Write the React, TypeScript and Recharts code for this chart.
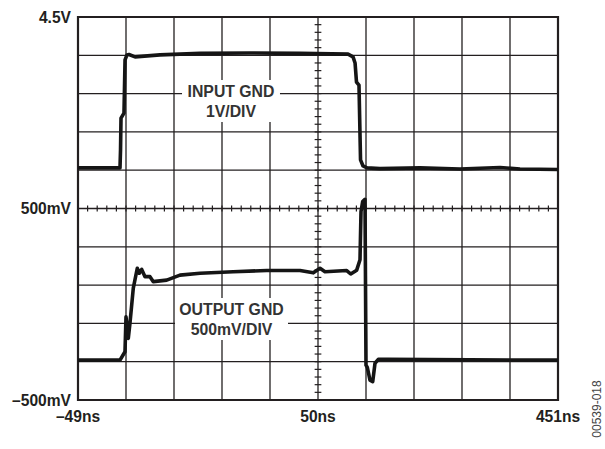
import React from 'react';
import { LineChart, Line, XAxis, YAxis, CartesianGrid, ReferenceLine, ReferenceArea } from 'recharts';

// Screen divisions (10 x 10 graticule)
const inputTime = [0, 0.875, 0.886, 0.896, 0.958, 0.98, 1.02, 1.062, 1.188, 1.708, 2.542, 3.584, 4.626, 5.626, 5.73, 5.772, 5.802, 5.854, 5.886, 5.938, 6.02, 6.292, 7.126, 7.958, 8.792, 9.208, 10];
const inputLevel = [6.06, 6.06, 6.53, 7.36, 7.49, 8.88, 9.01, 9.02, 8.96, 9.01, 9.05, 9.06, 9.05, 9.03, 8.96, 8.8, 8.3, 8.22, 6.27, 6.11, 6.06, 6.04, 6.06, 6.03, 6.07, 6.03, 6.02];

const outputTime = [0, 0.875, 0.979, 1.0, 1.048, 1.083, 1.152, 1.235, 1.277, 1.327, 1.396, 1.5, 1.569, 1.848, 2.125, 2.542, 3.235, 3.931, 4.625, 4.902, 5.042, 5.146, 5.598, 5.681, 5.806, 5.875, 5.896, 5.931, 5.979, 6.0, 6.027, 6.083, 6.14, 6.1875, 6.256, 6.458, 10];
const outputLevel = [1.04, 1.04, 1.26, 2.17, 1.61, 2.01, 2.92, 3.44, 3.31, 3.41, 3.22, 3.22, 3.09, 3.13, 3.26, 3.31, 3.35, 3.38, 3.38, 3.32, 3.44, 3.35, 3.38, 3.29, 3.39, 3.66, 4.92, 5.18, 5.24, 0.91, 0.85, 0.52, 0.48, 0.96, 1.06, 1.06, 1.04];

const gridTicks = [0, 1, 2, 3, 4, 5, 6, 7, 8, 9, 10];
const xLabelTicks = [0, 5, 10];
const xTickLabels = ['\u201349ns', '50ns', '451ns'];
const yLabelTicks = [0, 5, 10];
const yTickLabels = ['\u2013500mV', '500mV', '4.5V'];

const inputData = inputTime.map((x, i) => ({ x, y: inputLevel[i] }));
const outputData = outputTime.map((x, i) => ({ x, y: outputLevel[i] }));

const minorSteps: number[] = [];
for (let k = 0; k <= 50; k++) minorSteps.push(k / 5);

const INK = '#231f20';
const FONT = '"Liberation Sans", Arial, Helvetica, sans-serif';

const XTick = (props: any) => {
  const { x, y, payload } = props;
  const i = xLabelTicks.indexOf(payload.value);
  if (i < 0) return <g />;
  return (
    <text x={x} y={y + 21.6} textAnchor="middle" fontFamily={FONT} fontWeight="bold" fontSize={15.6} fill={INK}>
      {xTickLabels[i]}
    </text>
  );
};

const YTick = (props: any) => {
  const { x, y, payload } = props;
  const i = yLabelTicks.indexOf(payload.value);
  if (i < 0) return <g />;
  return (
    <text x={x} y={y + 5.6} textAnchor="end" fontFamily={FONT} fontWeight="bold" fontSize={15.6} fill={INK}>
      {yTickLabels[i]}
    </text>
  );
};

const BoxLabel = (props: any) => {
  const { viewBox, lines } = props;
  if (!viewBox) return null;
  const cx = viewBox.x + viewBox.width / 2;
  const cy = viewBox.y + viewBox.height / 2;
  return (
    <text textAnchor="middle" fontFamily={FONT} fontWeight="bold" fontSize={15.8} fill="#333">
      <tspan x={cx} y={cy - 10 + 5.6}>{lines[0]}</tspan>
      <tspan x={cx} y={cy + 10 + 5.6}>{lines[1]}</tspan>
    </text>
  );
};

export default function App() {
  return (
    <div style={{ position: 'absolute', left: 0, top: 0, width: 605, height: 449, background: '#fff' }}>
      <LineChart width={605} height={449} margin={{ top: 17, right: 47, bottom: 48, left: 77 }}>
        <CartesianGrid stroke={INK} strokeWidth={1.3} strokeOpacity={1} />
        <XAxis
          type="number"
          dataKey="x"
          domain={[0, 10]}
          ticks={gridTicks}
          interval={0}
          height={1}
          tickSize={0}
          tickMargin={0}
          tickLine={false}
          axisLine={false}
          tick={<XTick />}
          allowDataOverflow
        />
        <YAxis
          type="number"
          domain={[0, 10]}
          ticks={gridTicks}
          interval={0}
          width={1}
          tickSize={0}
          tickMargin={7}
          tickLine={false}
          axisLine={false}
          tick={<YTick />}
          allowDataOverflow
        />
        {minorSteps.map((v) => (
          <ReferenceLine key={'mx' + v} segment={[{ x: v, y: 5 - 0.08 }, { x: v, y: 5 + 0.08 }]} stroke={INK} strokeWidth={1.2} />
        ))}
        {minorSteps.map((v) => (
          <ReferenceLine key={'my' + v} segment={[{ x: 5 - 0.07, y: v }, { x: 5 + 0.07, y: v }]} stroke={INK} strokeWidth={1.2} />
        ))}
        <ReferenceArea x1={2.167} x2={4.208} y1={7.258} y2={8.355} fill="#fff" fillOpacity={1} stroke="none"
          label={<BoxLabel lines={['INPUT GND', '1V/DIV']} />} />
        <ReferenceArea x1={2.021} x2={4.375} y1={1.567} y2={2.663} fill="#fff" fillOpacity={1} stroke="none"
          label={<BoxLabel lines={['OUTPUT GND', '500mV/DIV']} />} />
        <ReferenceArea x1={0} x2={10} y1={0} y2={10} fill="none" fillOpacity={0} stroke={INK} strokeWidth={2.2} />
        <Line data={inputData} dataKey="y" type="linear" dot={false} activeDot={false} stroke="#151515" strokeWidth={3.6} strokeLinejoin="round" isAnimationActive={false} />
        <Line data={outputData} dataKey="y" type="linear" dot={false} activeDot={false} stroke="#151515" strokeWidth={3.6} strokeLinejoin="round" isAnimationActive={false} />
      </LineChart>
      <div
        style={{
          position: 'absolute',
          left: 597,
          top: 409,
          transform: 'translate(-50%, -50%) rotate(-90deg)',
          fontFamily: FONT,
          fontSize: 12,
          color: '#444',
          whiteSpace: 'nowrap',
          lineHeight: 1,
        }}
      >
        00539-018
      </div>
    </div>
  );
}
